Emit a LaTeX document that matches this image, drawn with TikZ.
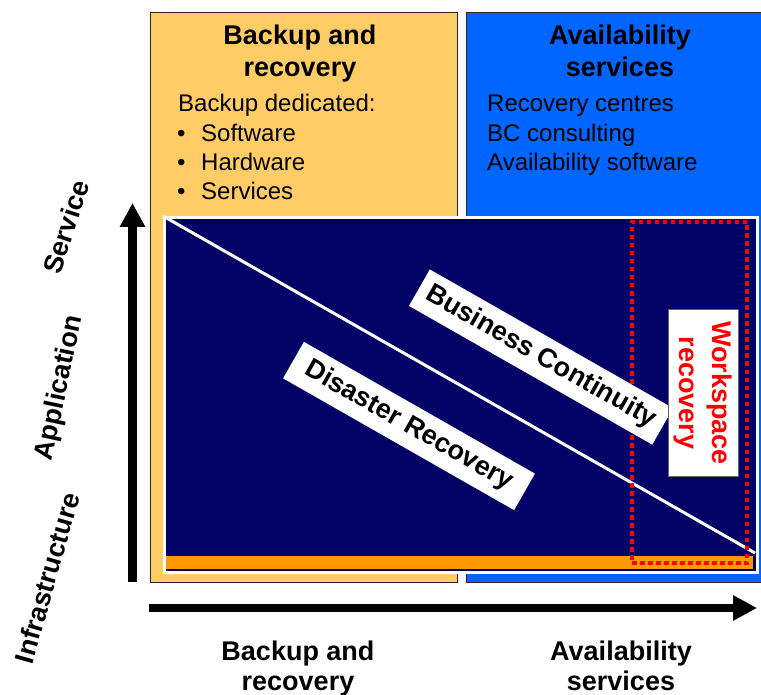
\documentclass[tikz,border=0pt]{standalone}
\usepackage{fontspec}
\setmainfont{Liberation Sans}
\usetikzlibrary{arrows.meta}
\definecolor{paleorange}{HTML}{FFCC66}
\definecolor{brightblue}{HTML}{0066FF}
\definecolor{navyfill}{HTML}{000066}
\definecolor{stripe}{HTML}{FF9900}
\begin{document}
\begin{tikzpicture}[x=1pt,y=-1pt,
  head/.style={font=\fontsize{27}{32}\selectfont\bfseries, inner sep=0pt, anchor=base},
  body/.style={font=\fontsize{24}{29}\selectfont, inner sep=0pt, anchor=base west},
  sidelabel/.style={font=\fontsize{27}{32}\selectfont\bfseries, inner sep=0pt},
  axisarrow/.style={line width=8.5pt, -{Triangle[length=24pt,width=24pt]}},
  tag/.style={fill=white, font=\fontsize{27}{32}\selectfont\bfseries, inner sep=0pt, minimum height=42pt},
  panel/.style={draw=black!85, line width=1pt, inner sep=0pt, anchor=north west}
]
\useasboundingbox (0,0) rectangle (761,695);

% two panels
\node[panel, fill=paleorange, minimum width=307pt, minimum height=570pt] (brbox) at (150,12) {};
\node[panel, fill=brightblue, minimum width=297pt, minimum height=570pt] (avbox) at (466,12) {};

% panel texts
\node[head] (brh1) at (300,45) {Backup and};
\node[head] (brh2) at (300,77) {recovery};
\node[body] (brb0) at (178,112) {Backup dedicated:};
\node[body] (bull1) at (177,142) {•};
\node[body] (brb1) at (201,142) {Software};
\node[body] (bull2) at (177,171) {•};
\node[body] (brb2) at (201,171) {Hardware};
\node[body] (bull3) at (177,200) {•};
\node[body] (brb3) at (201,200) {Services};

\node[head] (avh1) at (620,45) {Availability};
\node[head] (avh2) at (620,77) {services};
\node[body] (avb1) at (487,112) {Recovery centres};
\node[body] (avb2) at (487,142) {BC consulting};
\node[body] (avb3) at (487,171) {Availability software};

% navy field
\node[fill=navyfill, inner sep=0pt, minimum width=593pt, minimum height=355pt, anchor=north west] (field) at (163,216) {};
\node[fill=stripe, inner sep=0pt, minimum width=588pt, minimum height=13pt, anchor=north west] (strip) at (165,556) {};
\node[draw=white, line width=3pt, inner sep=0pt, minimum width=593pt, minimum height=355pt, anchor=north west] (frame) at (163,216) {};
\coordinate (diagend) at (755,553);
\draw[white, line width=3pt] (frame.north west) -- (diagend);

% workspace dotted area
\node[draw=red, line width=4.5pt, dash pattern=on 4.5pt off 3.5pt, inner sep=0pt, minimum width=115pt, minimum height=341pt] (wsarea) at (689.5,392.5) {};

% diagonal labels
\node[tag, rotate=-29.7, minimum width=280pt] (bc) at (541,357) {Business Continuity};
\node[tag, rotate=-29.7, minimum width=266pt] (dr) at (409,426) {Disaster Recovery};

% workspace label
\node[draw=black!60, line width=1pt, fill=white, text=red, rotate=-90, align=center,
      font=\fontsize{27}{33}\selectfont\bfseries, inner sep=0pt,
      minimum width=166pt, minimum height=70pt] (ws) at (703,393) {Workspace\\recovery};

% axes
\coordinate (vstart) at (132.5,582);
\coordinate (vend) at (132.5,203);
\draw[axisarrow] (vstart) -- (vend);
\coordinate (hstart) at (149,608);
\coordinate (hend) at (757,608);
\draw[axisarrow] (hstart) -- (hend);

% side labels
\node[sidelabel, rotate=72] (svc) at (66,227) {Service};
\node[sidelabel, rotate=78] (app) at (60,388) {Application};
\node[sidelabel, rotate=74] (infra) at (47,578) {Infrastructure};

% bottom labels
\node[head] (bx1) at (298,660) {Backup and};
\node[head] (bx2) at (298,690) {recovery};
\node[head] (ax1) at (621,660) {Availability};
\node[head] (ax2) at (621,690) {services};
\end{tikzpicture}
\end{document}
